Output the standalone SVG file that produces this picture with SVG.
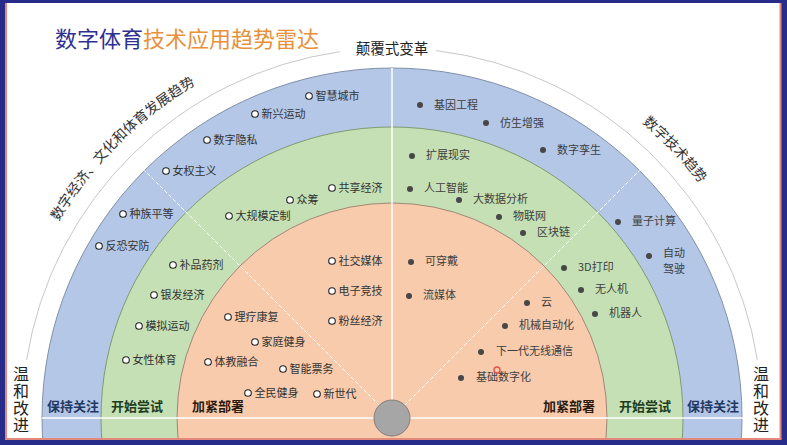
<svg xmlns="http://www.w3.org/2000/svg" width="787" height="445" viewBox="0 0 787 445">
<style>
text{font-family:"Noto Sans CJK SC","Noto Sans",sans-serif}
.lt{font-size:11px;fill:#333}
.rt{font-size:11px;fill:#404040}
.hc{fill:#fff;stroke:#222;stroke-width:1.1}
.fd{fill:#474747}
.rl{font-size:13px;font-weight:bold}
.vt{font-size:16px;fill:#222;writing-mode:vertical-rl;letter-spacing:1px}
.at{font-size:14px;fill:#333}
</style>
<defs>
<clipPath id="frame"><rect x="6" y="3" width="774" height="435"/></clipPath>
<path id="arcL" d="M28.3 285.6 A387 387 0 0 1 259.6 54.3"/>
<path id="arcR" d="M543.2 61.8 A387 387 0 0 1 755.7 285.6"/>
</defs>
<rect x="0" y="0" width="787" height="445" fill="#272b8a"/>
<rect x="6" y="3" width="775" height="436" fill="#fff"/>
<g id="frame-lines" stroke="#e3897c" stroke-width="2" fill="none">
<line x1="6" y1="3" x2="6" y2="439"/>
<line x1="780.5" y1="3" x2="780.5" y2="439"/>
<line x1="5" y1="439" x2="781.5" y2="439"/>
</g>
<g id="rings" clip-path="url(#frame)">
<circle cx="392" cy="418" r="350" fill="#b4c7e7" stroke="#8090a8" stroke-width="1"/>
<circle cx="392" cy="418" r="291" fill="#c5e0b4" stroke="#7f9a70" stroke-width="1"/>
<circle cx="392" cy="418" r="215" fill="#f8cbad" stroke="#a08878" stroke-width="1"/>
</g>
<g id="dividers" stroke="#fff" fill="none">
<line x1="392" y1="68" x2="392" y2="418" stroke-width="1.5"/>
<line x1="42" y1="418" x2="743" y2="418" stroke-width="1.5"/>
<line x1="392" y1="418" x2="144.5" y2="170.5" stroke-width="1" stroke-dasharray="4 2"/>
<line x1="392" y1="418" x2="639.5" y2="170.5" stroke-width="1" stroke-dasharray="4 2"/>
</g>
<circle id="core" cx="392" cy="418" r="18" fill="#a6a6a6" stroke="#8a7a7a" stroke-width="1"/>
<g id="outer-arc" fill="none" stroke="#c8c8c8" stroke-width="1">
<path d="M26.6 360 A370 370 0 0 1 340 51.7"/>
<path d="M436 50.6 A370 370 0 0 1 757.4 360"/>
</g>
<g id="title">
<text x="55" y="47" font-size="22" fill="#2e3192">数字体育<tspan fill="#e8913a">技术应用趋势雷达</tspan></text>
</g>
<text x="392" y="53.5" font-size="14.5" fill="#222" text-anchor="middle">颠覆式变革</text>
<text class="at"><textPath href="#arcL" startOffset="50%" text-anchor="middle">数字经济、文化和体育发展趋势</textPath></text>
<text class="at"><textPath href="#arcR" startOffset="50%" text-anchor="middle">数字技术趋势</textPath></text>
<g id="mild-left"><text class="vt" x="21" y="366">温和改进</text></g>
<g id="mild-right"><text class="vt" x="761" y="366">温和改进</text></g>
<g id="ring-labels">
<text class="rl" x="47" y="411" fill="#1f3864">保持关注</text>
<text class="rl" x="111" y="411" fill="#1e3d1e">开始尝试</text>
<text class="rl" x="192" y="411" fill="#2a1a10">加紧部署</text>
<text class="rl" x="543" y="411" fill="#2a1a10">加紧部署</text>
<text class="rl" x="619" y="411" fill="#1e3d1e">开始尝试</text>
<text class="rl" x="687" y="411" fill="#1f3864">保持关注</text>
</g>
<g id="n-zhihuichengshi"><circle class="hc" cx="309" cy="96" r="3.3"/><text class="lt" x="315.5" y="100">智慧城市</text></g>
<g id="n-xinxingyundong"><circle class="hc" cx="255" cy="114" r="3.3"/><text class="lt" x="261.5" y="118">新兴运动</text></g>
<g id="n-shuziyinsi"><circle class="hc" cx="207" cy="140" r="3.3"/><text class="lt" x="213.5" y="144">数字隐私</text></g>
<g id="n-nvquanzhuyi"><circle class="hc" cx="166" cy="171" r="3.3"/><text class="lt" x="172.5" y="175">女权主义</text></g>
<g id="n-zhongzupingdeng"><circle class="hc" cx="123" cy="214" r="3.3"/><text class="lt" x="129.5" y="218">种族平等</text></g>
<g id="n-fankonganfang"><circle class="hc" cx="99" cy="246" r="3.3"/><text class="lt" x="105.5" y="250">反恐安防</text></g>
<g id="n-gongxiangjingji"><circle class="hc" cx="332" cy="188" r="3.3"/><text class="lt" x="338.5" y="192">共享经济</text></g>
<g id="n-zhongchou"><circle class="hc" cx="290" cy="200" r="3.3"/><text class="lt" x="296.5" y="204">众筹</text></g>
<g id="n-daguimodingzhi"><circle class="hc" cx="229" cy="216" r="3.3"/><text class="lt" x="235.5" y="220">大规模定制</text></g>
<g id="n-bupinyaoji"><circle class="hc" cx="173" cy="265" r="3.3"/><text class="lt" x="179.5" y="269">补品药剂</text></g>
<g id="n-yinfajingji"><circle class="hc" cx="154" cy="295" r="3.3"/><text class="lt" x="160.5" y="299">银发经济</text></g>
<g id="n-moniyundong"><circle class="hc" cx="139" cy="326" r="3.3"/><text class="lt" x="145.5" y="330">模拟运动</text></g>
<g id="n-nvxingtiyu"><circle class="hc" cx="126" cy="360" r="3.3"/><text class="lt" x="132.5" y="364">女性体育</text></g>
<g id="n-shejiaomeiti"><circle class="hc" cx="332" cy="261" r="3.3"/><text class="lt" x="338.5" y="265">社交媒体</text></g>
<g id="n-dianzijingji"><circle class="hc" cx="332" cy="291" r="3.3"/><text class="lt" x="338.5" y="295">电子竞技</text></g>
<g id="n-fensijingji"><circle class="hc" cx="332" cy="321" r="3.3"/><text class="lt" x="338.5" y="325">粉丝经济</text></g>
<g id="n-liliaokangfu"><circle class="hc" cx="228" cy="317" r="3.3"/><text class="lt" x="234.5" y="321">理疗康复</text></g>
<g id="n-jiatingjianshen"><circle class="hc" cx="255" cy="342" r="3.3"/><text class="lt" x="261.5" y="346">家庭健身</text></g>
<g id="n-tijiaoronghe"><circle class="hc" cx="208" cy="362" r="3.3"/><text class="lt" x="214.5" y="366">体教融合</text></g>
<g id="n-zhinengpiaowu"><circle class="hc" cx="283" cy="369" r="3.3"/><text class="lt" x="289.5" y="373">智能票务</text></g>
<g id="n-quanminjianshen"><circle class="hc" cx="248" cy="393" r="3.3"/><text class="lt" x="254.5" y="397">全民健身</text></g>
<g id="n-xinshidai"><circle class="hc" cx="317" cy="394" r="3.3"/><text class="lt" x="323.5" y="398">新世代</text></g>
<g id="n-jiyingongcheng"><circle class="fd" cx="420" cy="105" r="3"/><text class="rt" x="434" y="109">基因工程</text></g>
<g id="n-fangshengzengqiang"><circle class="fd" cx="486" cy="123" r="3"/><text class="rt" x="500" y="127">仿生增强</text></g>
<g id="n-shuziluansheng"><circle class="fd" cx="543" cy="150" r="3"/><text class="rt" x="557" y="154">数字孪生</text></g>
<g id="n-kuozhanxianshi"><circle class="fd" cx="412" cy="156" r="3"/><text class="rt" x="426" y="159">扩展现实</text></g>
<g id="n-rengongzhineng"><circle class="fd" cx="410" cy="189" r="3"/><text class="rt" x="424" y="192">人工智能</text></g>
<g id="n-dashujufenxi"><circle class="fd" cx="459" cy="200" r="3"/><text class="rt" x="473" y="203">大数据分析</text></g>
<g id="n-wulianwang"><circle class="fd" cx="499" cy="217" r="3"/><text class="rt" x="513" y="220">物联网</text></g>
<g id="n-qukuailian"><circle class="fd" cx="523" cy="233" r="3"/><text class="rt" x="537" y="236">区块链</text></g>
<g id="n-liangzijisuan"><circle class="fd" cx="618" cy="222" r="3"/><text class="rt" x="632" y="225">量子计算</text></g>
<g id="n-zidongjiashi"><circle class="fd" cx="649" cy="256" r="3"/><text class="rt"><tspan x="663" y="257">自动</tspan><tspan x="663" dy="16">驾驶</tspan></text></g>
<g id="n-3ddayin"><circle class="fd" cx="564" cy="268" r="3"/><text class="rt" x="578" y="271">3D打印</text></g>
<g id="n-wurenji"><circle class="fd" cx="581" cy="290" r="3"/><text class="rt" x="595" y="293">无人机</text></g>
<g id="n-jiqiren"><circle class="fd" cx="595" cy="314" r="3"/><text class="rt" x="609" y="317">机器人</text></g>
<g id="n-kechuandai"><circle class="fd" cx="411" cy="262" r="3"/><text class="rt" x="425" y="265">可穿戴</text></g>
<g id="n-liumeiti"><circle class="fd" cx="409" cy="296" r="3"/><text class="rt" x="423" y="299">流媒体</text></g>
<g id="n-yun"><circle class="fd" cx="527" cy="303" r="3"/><text class="rt" x="541" y="306">云</text></g>
<g id="n-jixiezidonghua"><circle class="fd" cx="505" cy="326" r="3"/><text class="rt" x="519" y="329">机械自动化</text></g>
<g id="n-xiayidai"><circle class="fd" cx="481" cy="352" r="3"/><text class="rt" x="496" y="355">下一代无线通信</text></g>
<g id="n-jichushuzihua"><circle class="fd" cx="461" cy="378" r="3"/><text class="rt" x="476" y="381">基础数字化</text></g>
<circle cx="497" cy="370" r="3" fill="none" stroke="#e05050" stroke-width="1.3"/>
</svg>
